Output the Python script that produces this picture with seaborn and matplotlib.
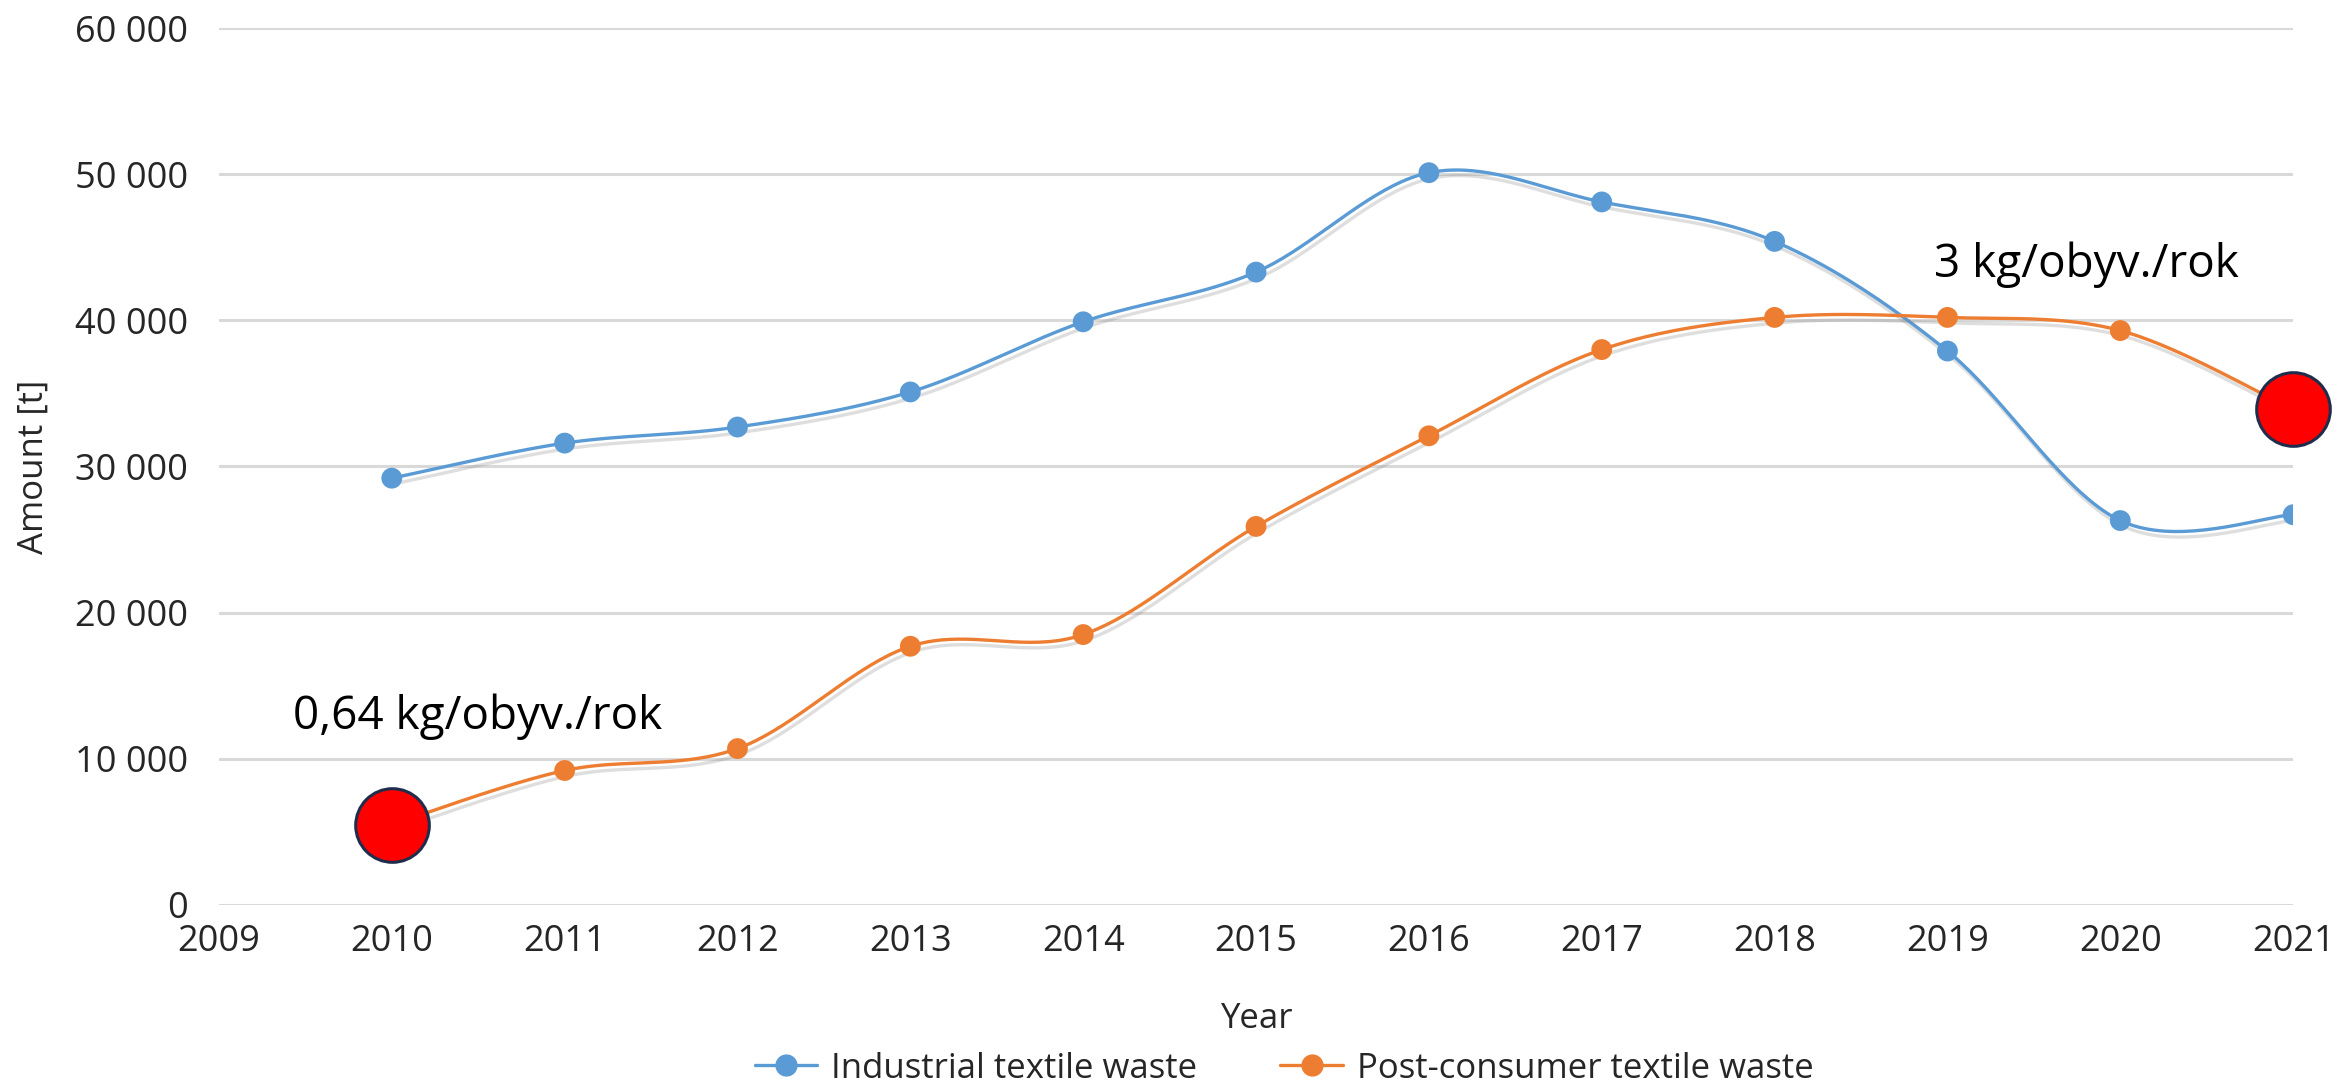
import numpy as np
import pandas as pd
import matplotlib
matplotlib.use("Agg")
import matplotlib.pyplot as plt
import matplotlib.patheffects as pe
from matplotlib.ticker import FuncFormatter, MultipleLocator
from matplotlib.lines import Line2D
import seaborn as sns

# --- data -------------------------------------------------------------------
years = [2010, 2011, 2012, 2013, 2014, 2015, 2016, 2017, 2018, 2019, 2020, 2021]
industrial = [29200, 31600, 32700, 35100, 39900, 43300, 50100, 48100, 45400, 37900, 26300, 26700]
post_consumer = [5500, 9200, 10700, 17700, 18500, 25900, 32100, 38000, 40200, 40200, 39300, 33900]
series_names = ["Industrial textile waste", "Post-consumer textile waste"]
highlight_years = [2010, 2021]
highlight_labels = ["0,64 kg/obyv./rok", "3 kg/obyv./rok"]

BLUE = "#5B9BD5"
ORANGE = "#ED7D31"
GRID = "#D9D9D9"
TEXT = "#262626"


def smooth_curve(x, y, n=40):
    """Bezier-smoothed curve through all points (spreadsheet-style smoothing)."""
    x = np.asarray(x, float)
    y = np.asarray(y, float)
    P = np.column_stack([x, y])
    ext = np.vstack([P[0], P, P[-1]])
    out = []
    t = np.linspace(0, 1, n)[:, None]
    for i in range(len(P) - 1):
        p0, p3 = ext[i + 1], ext[i + 2]
        c1 = p0 + (ext[i + 2] - ext[i]) / 6.0
        c2 = p3 - (ext[i + 3] - ext[i + 1]) / 6.0
        seg = ((1 - t) ** 3) * p0 + 3 * ((1 - t) ** 2) * t * c1 + 3 * (1 - t) * t ** 2 * c2 + t ** 3 * p3
        out.append(seg if i == 0 else seg[1:])
    out = np.vstack(out)
    return out[:, 0], out[:, 1]


sns.set_theme(style="white")
plt.rcParams["font.family"] = ["Open Sans", "DejaVu Sans"]

fig = plt.figure(figsize=(23.39, 10.86), dpi=100)
ax = fig.add_axes([0.0936, 0.1667, 0.8868, 0.8075])

shadow = [pe.SimpleLineShadow(offset=(2, -4), shadow_color="#7f7f7f", alpha=0.25), pe.Normal()]

for name, vals, col in [(series_names[0], industrial, BLUE), (series_names[1], post_consumer, ORANGE)]:
    sx, sy = smooth_curve(years, vals)
    curve = pd.DataFrame({"Year": sx, "Amount": sy})
    sns.lineplot(data=curve, x="Year", y="Amount", color=col, linewidth=2.4, ax=ax,
                 sort=False, estimator=None, path_effects=shadow)
    pts = pd.DataFrame({"Year": years, "Amount": vals})
    sns.lineplot(data=pts, x="Year", y="Amount", color=col, linestyle="none", marker="o",
                 markersize=15, markeredgewidth=0, ax=ax, estimator=None, path_effects=shadow)

# highlighted per-capita points
pc = dict(zip(years, post_consumer))
hl = pd.DataFrame({"Year": highlight_years, "Amount": [pc[y] for y in highlight_years]})
sns.scatterplot(data=hl, x="Year", y="Amount", s=53 ** 2, color="#FF0000",
                edgecolor="#1F2D4D", linewidth=2.2, ax=ax, zorder=5, clip_on=False)

ax.text(2009.43, 12900, highlight_labels[0], fontsize=33, ha="left", va="center", color="black")
ax.text(2018.92, 43800, highlight_labels[1], fontsize=33, ha="left", va="center", color="black",
        clip_on=False)

ax.set_xlim(2009, 2021)
ax.set_ylim(0, 60000)
ax.xaxis.set_major_locator(MultipleLocator(1))
ax.yaxis.set_major_locator(MultipleLocator(10000))
ax.yaxis.set_major_formatter(FuncFormatter(lambda v, p: f"{int(v):,}".replace(",", " ")))
ax.xaxis.set_major_formatter(FuncFormatter(lambda v, p: f"{int(round(v))}"))
ax.grid(axis="y", color=GRID, linewidth=2.2)
ax.grid(axis="x", visible=False)
ax.set_axisbelow(True)
sns.despine(ax=ax, left=True, bottom=True)
ax.tick_params(axis="both", length=0, labelsize=26, colors=TEXT)
ax.tick_params(axis="y", pad=22)
ax.tick_params(axis="x", pad=14)

ax.set_xlabel("Year", fontsize=25, color=TEXT, labelpad=30)
ax.set_ylabel("Amount [t]", fontsize=25, color=TEXT, labelpad=18)

handles = [Line2D([], [], color=BLUE, marker="o", markersize=15, linewidth=2.4),
           Line2D([], [], color=ORANGE, marker="o", markersize=15, linewidth=2.4)]
fig.legend(handles, series_names, loc="center", bbox_to_anchor=(0.549, 0.016), ncol=2,
           frameon=False, fontsize=25, handlelength=1.8, columnspacing=2.4, handletextpad=0.4,
           labelcolor=TEXT, borderpad=0)

fig.savefig("out.png", dpi=100)
